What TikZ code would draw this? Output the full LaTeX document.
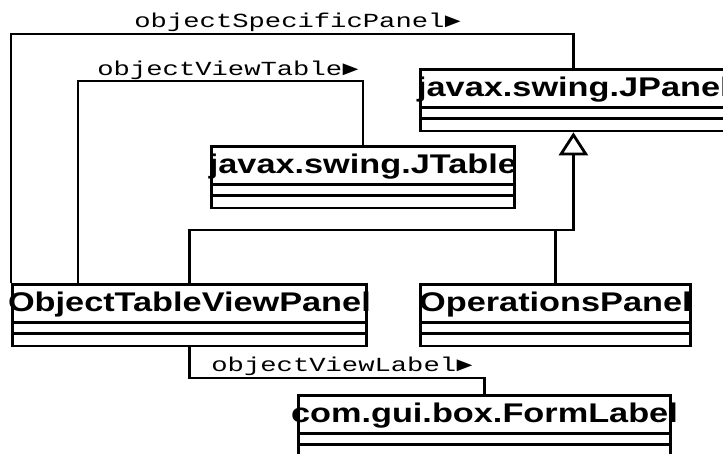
\documentclass[tikz,border=0pt]{standalone}
\usepackage{fontspec}
\usepackage{graphicx}
\setmainfont{Liberation Sans}
\newfontfamily\monolabel{Liberation Mono}
\usetikzlibrary{arrows.meta,calc}

% class names: bold sans, widened; role names: light mono, widened
\newcommand\clsname[1]{\scalebox{1.27}[1]{\fontsize{27}{30}\selectfont\bfseries #1}}
\newcommand\rolename[1]{\scalebox{1.36}[1]{\fontsize{20}{22}\selectfont\monolabel #1}}

% a UML class box: name, left, top, width, title
\newcommand\umlclass[5]{%
  \node[clsbox, minimum width=#4pt] (#1) at (#2,#3) {};
  \draw ($(#1.north west)+(0,39.5)$) -- ($(#1.north east)+(0,39.5)$);
  \draw ($(#1.north west)+(0,50.5)$) -- ($(#1.north east)+(0,50.5)$);
  \node[clstitle] (#1-name) at ($(#1.north)+(0,28)$) {\clsname{#5}};
}

\begin{document}
\begin{tikzpicture}[x=1pt, y=-1pt, line width=2.8pt,
  clsbox/.style={draw, rectangle, inner sep=0pt, minimum height=61.5pt, anchor=north west},
  clstitle/.style={inner sep=0pt, anchor=base},
  assoc/.style={draw, line join=miter},
  inherit/.style={draw, line join=miter, -{Triangle[open, length=23pt, width=29pt]}},
  rolelabel/.style={inner sep=0pt, anchor=base west},
]
\fill[white] (0,0) rectangle (723,453);
\useasboundingbox (0,0) rectangle (723,453);

% classes
\umlclass{jpanel}{419}{68}{306}{javax.swing.JPanel}
\umlclass{jtable}{210}{145}{303}{javax.swing.JTable}
\begin{scope}
  \clip (9.6,270) rectangle (723,360);
  \umlclass{otvp}{11}{283}{354}{ObjectTableViewPanel}
\end{scope}
\umlclass{opsp}{419}{283}{270}{OperationsPanel}
\umlclass{formlabel}{297}{394}{372}{com.gui.box.FormLabel}

% routing levels of the connectors
\coordinate (lvlA) at (0,34);
\coordinate (lvlB) at (0,81);
\coordinate (lvlC) at (0,230);
\coordinate (lvlD) at (0,378);
\coordinate (otvpB) at ($(otvp.north west)+(67,0)$);

% associations
\draw[assoc] (otvp.north west) -- (otvp.north west |- lvlA) -- (jpanel.north |- lvlA) -- (jpanel.north);
\draw[assoc] (otvpB) -- (otvpB |- lvlB) -- (jtable.north |- lvlB) -- (jtable.north);
\draw[assoc] (otvp.south) -- (otvp.south |- lvlD) -- (formlabel.north |- lvlD) -- (formlabel.north);

% generalisation
\draw[inherit] (otvp.north) -- (otvp.north |- lvlC) -- (jpanel.south |- lvlC) -- (jpanel.south);
\draw[assoc] (opsp.north) -- (opsp.north |- lvlC);

% role names
\node[rolelabel] (roleA) at (133,27) {\rolename{objectSpecificPanel►}};
\node[rolelabel] (roleB) at (96,75) {\rolename{objectViewTable►}};
\node[rolelabel] (roleC) at (210,371) {\rolename{objectViewLabel►}};
\end{tikzpicture}
\end{document}
